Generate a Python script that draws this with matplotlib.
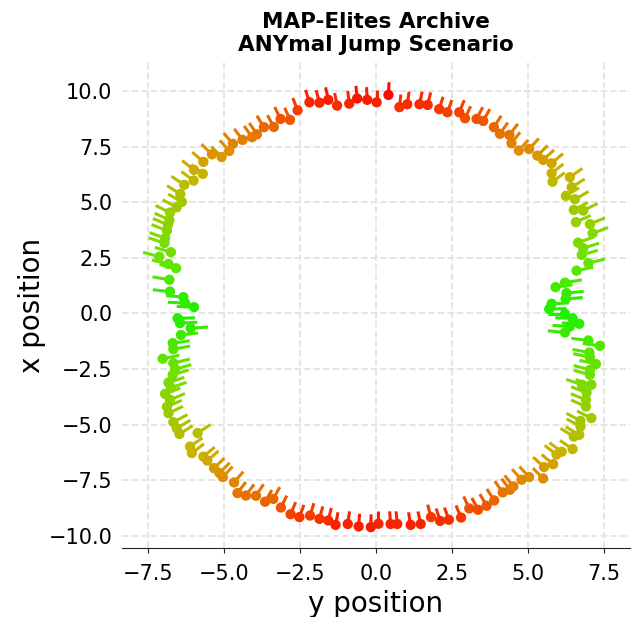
import numpy as np
import matplotlib
matplotlib.use("Agg")
import matplotlib.pyplot as plt
from matplotlib.collections import LineCollection
from matplotlib.colors import LinearSegmentedColormap

# archive cells: y position (horizontal), x position (vertical)
y_pos = [
    0.02, -0.29, -0.62, -0.88, -1.28, -1.57, -1.86, -2.19, -2.58, -2.83,
    -3.14, -3.36, -3.69, -3.92, -4.08, -4.39, -4.71, -4.83, -5.08, -5.40,
    -5.68, -5.70, -5.99, -6.00, -6.31, -6.44, -6.39, -6.56, -6.78, -6.80,
    -6.85, -6.88, -6.94, -6.96, -6.75, -7.13, -6.83, -6.58, -6.80, -6.78,
    -6.34, -6.28, -5.99, -6.53, -6.45, -6.10, -6.42, -6.69, -6.67, -7.02,
    -6.67, -6.61, -6.69, -6.83, -6.75, -6.94, -6.78, -6.88, -6.83, -6.67,
    -6.56, -6.47, -5.87, -6.12, -6.06, -5.68, -5.55, -5.33, -5.15, -5.04,
    -4.67, -4.56, -4.28, -3.95, -3.65, -3.38, -3.13, -2.81, -2.52, -2.17,
    -1.86, -1.57, -1.33, -0.93, -0.57, -0.17, 0.08, 0.48, 0.70, 1.14,
    1.47, 1.81, 2.11, 2.40, 2.80, 3.07, 3.36, 3.64, 3.89, 4.17,
    4.41, 4.52, 4.79, 5.04, 5.50, 5.53, 5.83, 5.94, 6.11, 6.47,
    6.51, 6.69, 6.73, 7.09, 6.73, 6.91, 6.91, 6.93, 6.78, 7.09,
    7.04, 7.04, 7.24, 7.04, 7.02, 7.37, 6.99, 6.22, 6.38, 6.69,
    6.47, 6.22, 5.70, 5.78, 6.24, 6.27, 6.22, 5.91, 6.60, 6.99,
    6.77, 6.82, 6.65, 7.13, 7.04, 6.58, 6.82, 6.51, 6.55, 6.25,
    6.44, 6.38, 5.81, 5.78, 5.78, 5.50, 5.31, 5.04, 4.70, 4.46,
    4.39, 4.08, 3.88, 3.53, 3.31, 2.93, 2.74, 2.35, 2.08, 1.70,
    1.43, 1.03, 0.77, 0.41,
]
x_pos = [
    9.49, 9.60, 9.66, 9.43, 9.34, 9.60, 9.47, 9.49, 9.13, 8.70,
    8.74, 8.38, 8.37, 8.05, 7.92, 7.80, 7.62, 7.30, 7.03, 7.15,
    6.81, 6.27, 6.45, 5.97, 5.78, 5.37, 5.01, 4.77, 4.53, 4.20,
    3.98, 3.72, 3.38, 3.16, 2.75, 2.55, 2.22, 2.03, 1.51, 0.98,
    0.73, 0.46, 0.28, -0.22, -0.44, -0.67, -0.97, -1.34, -1.61, -2.04,
    -2.24, -2.51, -2.76, -3.11, -3.35, -3.62, -3.89, -4.20, -4.49, -4.89,
    -5.16, -5.42, -5.38, -5.99, -6.28, -6.44, -6.62, -6.96, -7.18, -7.36,
    -7.60, -8.08, -8.19, -8.20, -8.47, -8.34, -8.73, -9.03, -9.16, -9.09,
    -9.24, -9.31, -9.51, -9.47, -9.58, -9.61, -9.46, -9.47, -9.47, -9.51,
    -9.47, -9.16, -9.33, -9.28, -9.18, -8.77, -8.83, -8.65, -8.41, -8.05,
    -7.93, -7.78, -7.48, -7.36, -7.42, -6.91, -6.78, -6.35, -6.22, -6.10,
    -5.54, -5.46, -5.09, -4.71, -4.83, -4.19, -3.89, -3.56, -3.21, -3.21,
    -2.76, -2.54, -2.28, -1.97, -1.76, -1.46, -1.22, -0.86, -0.59, -0.47,
    -0.22, -0.02, 0.19, 0.43, 0.65, 0.91, 1.38, 1.18, 1.92, 2.26,
    2.63, 2.93, 3.18, 3.60, 4.01, 4.10, 4.62, 4.65, 5.13, 5.28,
    5.67, 6.12, 5.92, 6.30, 6.75, 6.90, 7.09, 7.39, 7.32, 7.65,
    8.02, 8.07, 8.37, 8.65, 8.74, 8.77, 9.04, 9.04, 9.18, 9.37,
    9.40, 9.40, 9.27, 9.82,
]
# heading of each elite, degrees
heading = [
    90, 92, 94, 95, 98, 99, 101, 103, 106, 108,
    110, 112, 114, 116, 117, 119, 122, 123, 126, 127,
    130, 132, 133, 135, 138, 140, 142, 144, 146, 148,
    150, 152, 154, 156, 158, 160, 162, 163, 167, 172,
    173, 176, 177, 2, 4, 6, 9, 11, 14, 16,
    19, 21, 22, 24, 26, 28, 30, 31, 33, 36,
    38, 40, 42, 44, 46, 49, 50, 53, 54, 56,
    58, 61, 62, 64, 67, 68, 70, 73, 75, 77,
    79, 80, 82, 84, 87, 89, 90, 93, 94, 97,
    99, 101, 103, 105, 107, 109, 111, 113, 115, 117,
    119, 120, 123, 124, 126, 129, 131, 133, 135, 137,
    140, 141, 143, 146, 144, 149, 151, 153, 155, 156,
    159, 160, 163, 164, 166, 169, 170, 172, 175, 176,
    178, 180, 2, 4, 6, 8, 13, 11, 16, 18,
    21, 23, 26, 27, 30, 32, 34, 36, 38, 40,
    41, 44, 45, 47, 49, 51, 53, 56, 57, 60,
    61, 63, 65, 68, 69, 71, 73, 75, 77, 80,
    81, 84, 85, 88,
]

y_pos = np.array(y_pos)
x_pos = np.array(x_pos)
heading = np.radians(heading)

cmap = LinearSegmentedColormap.from_list("elite", [
    (0.00, (0.12, 0.94, 0.0)),
    (0.25, (0.42, 0.89, 0.0)),
    (0.50, (0.65, 0.78, 0.0)),
    (0.63, (0.79, 0.70, 0.0)),
    (0.73, (0.87, 0.56, 0.0)),
    (0.82, (0.91, 0.44, 0.0)),
    (0.90, (0.96, 0.27, 0.0)),
    (1.00, (1.00, 0.00, 0.0)),
])
colors = cmap(np.clip(np.abs(x_pos) / 10.0, 0, 1))

fig = plt.figure(figsize=(6.34, 6.17), dpi=100)
ax = fig.add_axes([0.1924, 0.1118, 0.8013, 0.7877])

seg_len = 0.57
segs = [[(yy, xx), (yy + seg_len * np.cos(h), xx + seg_len * np.sin(h))]
        for yy, xx, h in zip(y_pos, x_pos, heading)]
ax.add_collection(LineCollection(segs, colors=colors, linewidths=2.2, zorder=2))
ax.scatter(y_pos, x_pos, c=colors, s=55, zorder=3, linewidths=0)

ax.set_xlim(-8.36, 8.36)
ax.set_ylim(-10.55, 11.3)
ax.set_xticks(np.arange(-7.5, 7.6, 2.5))
ax.set_yticks(np.arange(-10, 10.1, 2.5))

ax.grid(True, linestyle="--", color="#e3e3e3", linewidth=1.3, zorder=0)
ax.set_axisbelow(True)
for side in ["top", "right", "left"]:
    ax.spines[side].set_visible(False)
ax.spines["bottom"].set_color("#222222")
ax.tick_params(axis="y", length=0, pad=7, labelsize=15)
ax.tick_params(axis="x", labelsize=15, color="#222222", pad=8)

ax.set_xlabel("y position", fontsize=20)
ax.set_ylabel("x position", fontsize=20, labelpad=2)
ax.set_title("MAP-Elites Archive\nANYmal Jump Scenario", fontsize=15.5,
             fontweight="bold", pad=8)

fig.savefig("out.png", dpi=100)
